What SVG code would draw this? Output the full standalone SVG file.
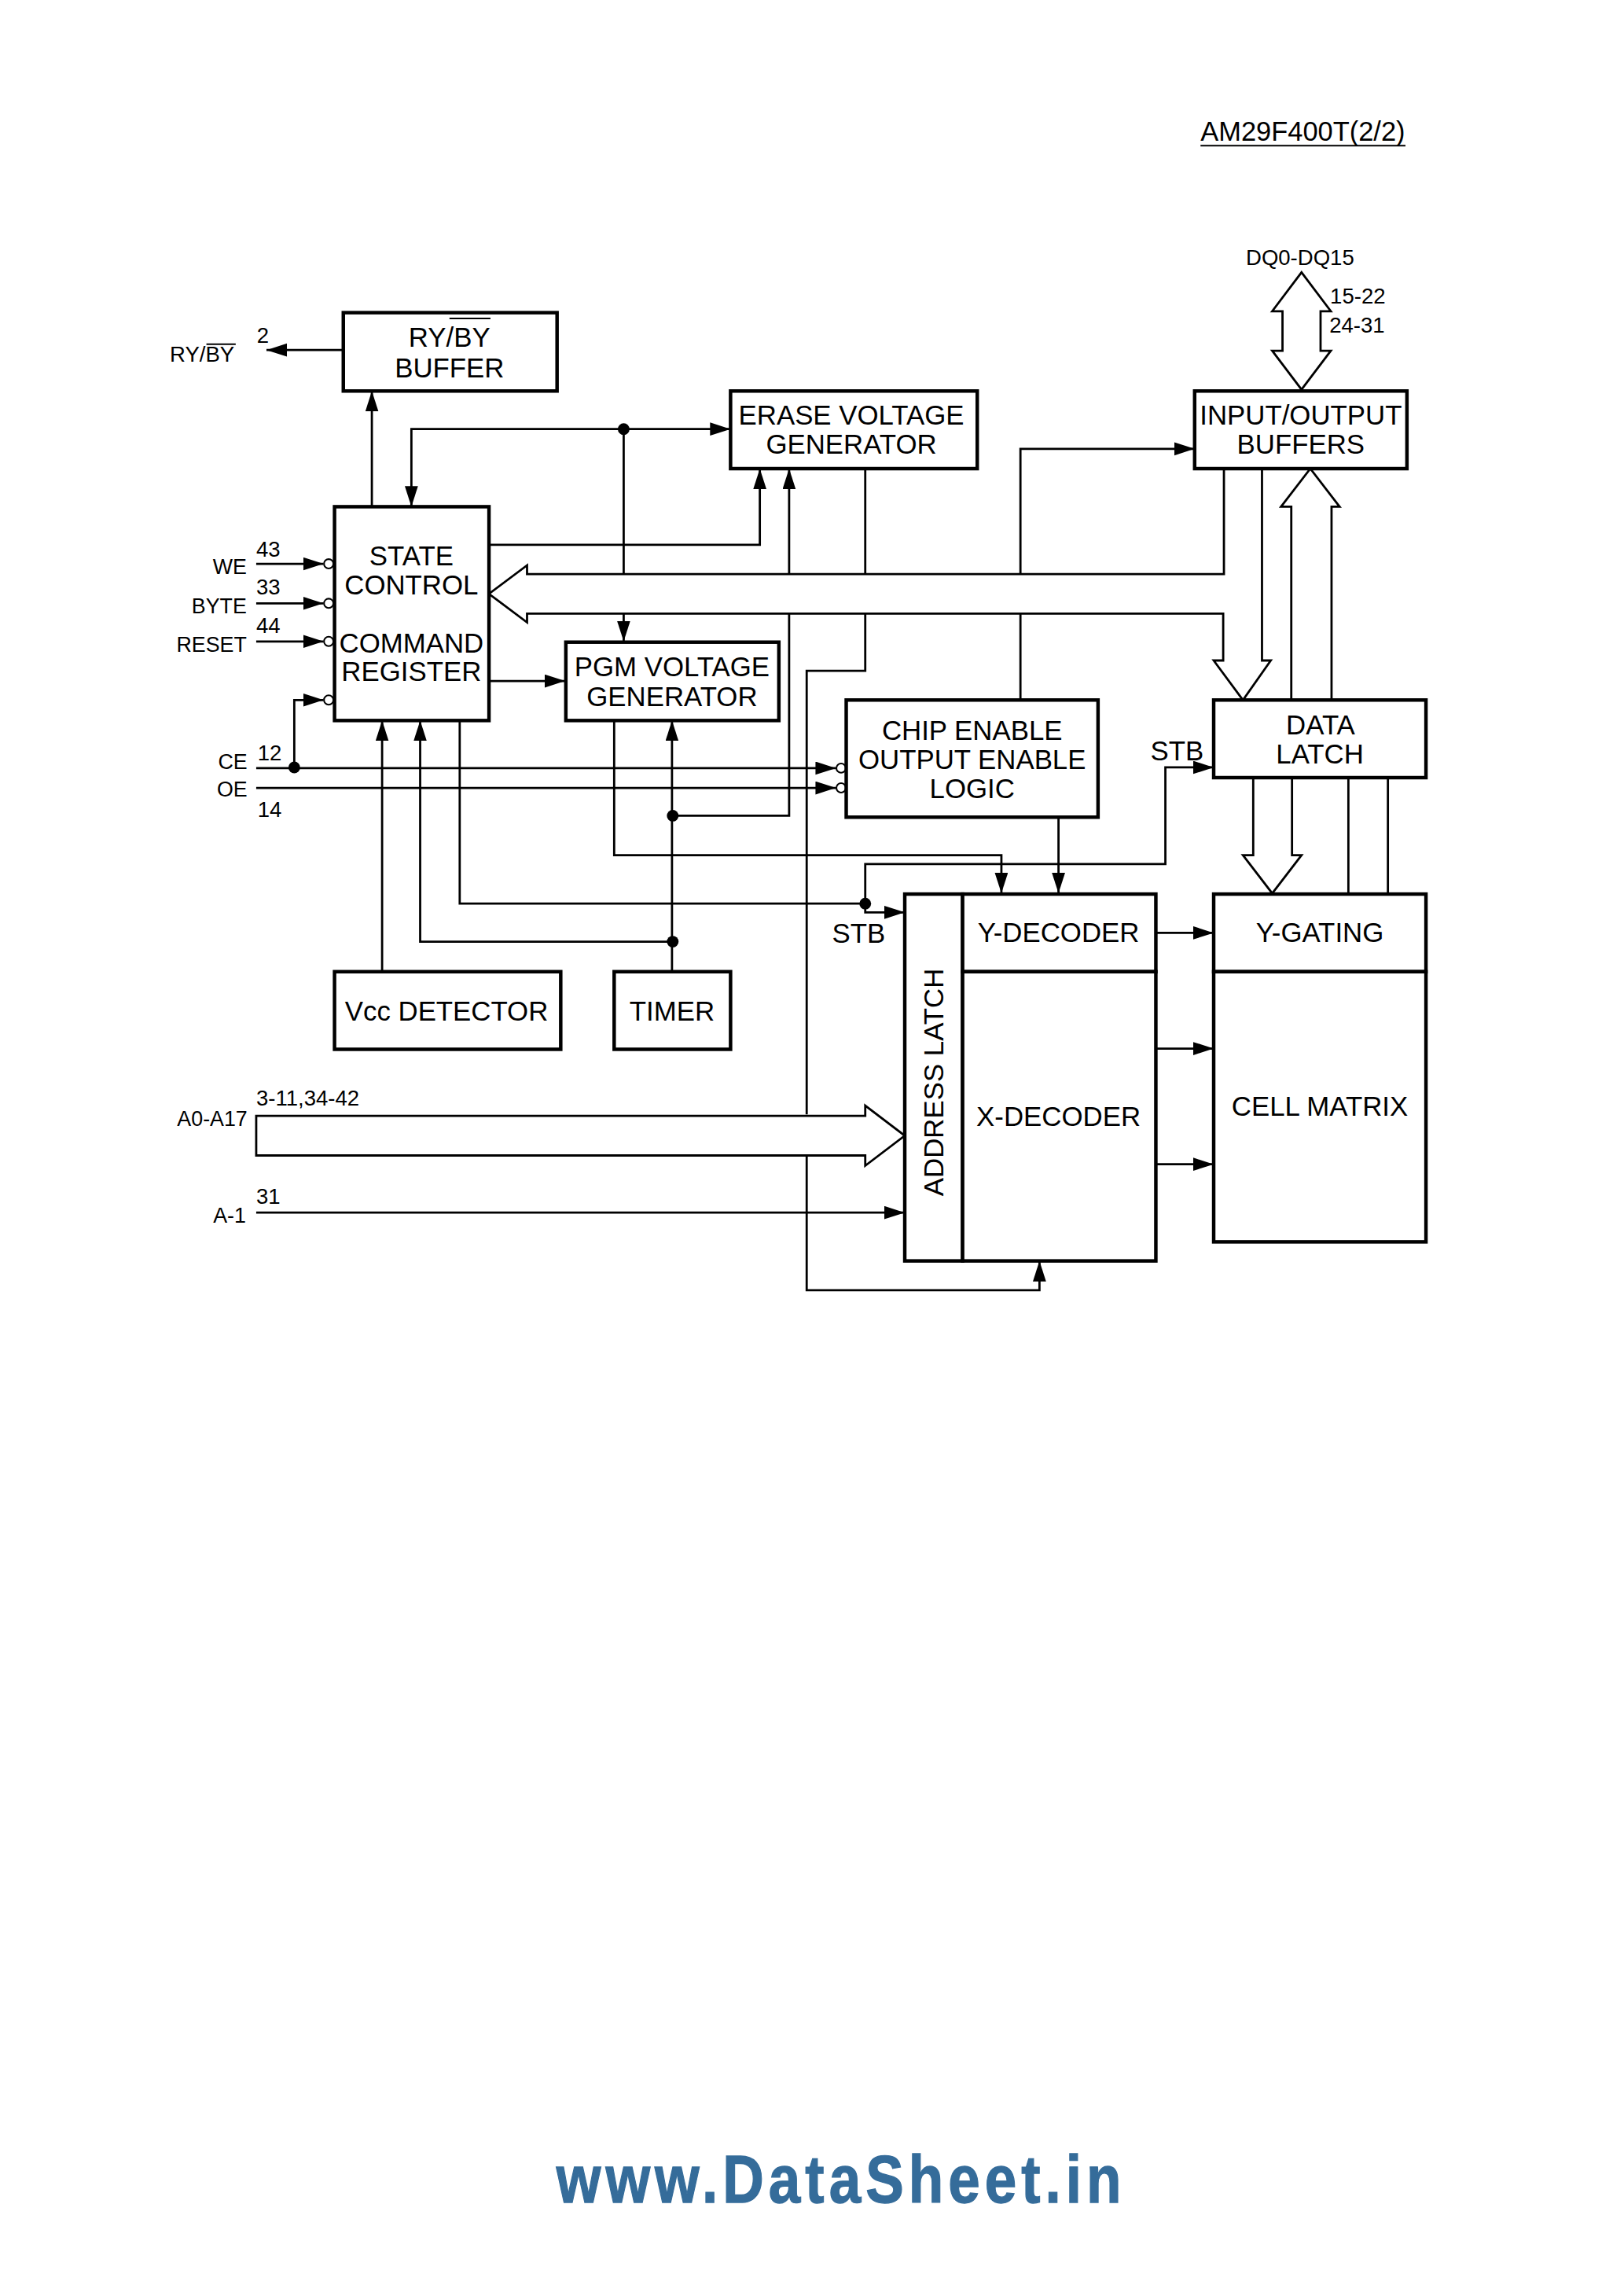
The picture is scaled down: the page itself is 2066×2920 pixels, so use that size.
<svg xmlns="http://www.w3.org/2000/svg" width="2066" height="2920" viewBox="0 0 2066 2920">
<style>
text{font-family:"Liberation Sans",Arial,sans-serif;fill:#000}
.b{font-size:18.7px;text-anchor:middle}
.s{font-size:14.8px}
.r{font-size:14.4px;text-anchor:end}
.box{fill:#fff;stroke:#000;stroke-width:2.4}
.l{fill:none;stroke:#000;stroke-width:1.5}
.a{fill:none;stroke:#000;stroke-width:1.5;marker-end:url(#arr)}
.bus{fill:none;stroke:#000;stroke-width:1.5;stroke-linejoin:miter}
.o{fill:#fff;stroke:#000;stroke-width:1.1}
.bar{stroke:#000;stroke-width:1.1}
</style>
<defs>
<marker id="arr" markerUnits="userSpaceOnUse" markerWidth="15" markerHeight="10" refX="14" refY="4.500" orient="auto"><path d="M0 0L14 4.500L0 9Z" fill="#000"/></marker>
</defs>
<rect width="2066" height="2920" fill="#fff"/>
<g transform="scale(1.8625)">
<g id="header"><text x="820" y="96" style="font-size:18.5px">AM29F400T(2/2)</text><line class="bar" x1="820" y1="99.5" x2="960" y2="99.5"/></g>
<g id="connectors">
<path class="a" d="M234 239H182"/>
<path class="a" d="M254 346V267"/>
<path class="a" d="M426 293H281V346"/>
<path class="a" d="M426 293H499"/>
<path class="l" d="M426 293V392"/>
<path class="a" d="M426 419V438"/>
<path class="a" d="M334 372H519V320"/>
<path class="a" d="M539 392V320"/>
<path class="l" d="M591 320V392"/>
<path class="a" d="M697 392V306.500H816"/>
<path class="bus" d="M836 320V392H360V386L334 405.500L360 425V419H835.500V451H829L849 478L868 451H862V320"/>
<path class="bus" d="M882 478V346H875L895 320L915 346H909.500V478"/>
<path class="bus" d="M889 186L909 212.500H902V239.500H909L889 266L869 239.500H876V212.500H869Z"/>
<path class="bus" d="M856 531V584H849L869 610L889 584H882.500V531"/>
<path class="l" d="M921 531V610"/>
<path class="l" d="M948 531V610"/>
<path class="a" d="M175 385H221"/>
<path class="a" d="M175 412H221"/>
<path class="a" d="M175 438H221"/>
<path class="a" d="M201 524V478H221"/>
<path class="a" d="M175 524.500H571"/>
<path class="a" d="M175 538H571"/>
<path class="a" d="M334 465H386"/>
<path class="a" d="M261 663V492"/>
<path class="a" d="M459 643H287V492"/>
<path class="a" d="M459 663V492"/>
<path class="l" d="M459 557H539V419"/>
<path class="l" d="M314 492V617H591"/>
<path class="a" d="M591 617V623H618"/>
<path class="a" d="M591 617V590H796V524H829"/>
<path class="a" d="M419.500 492V584H684V610"/>
<path class="a" d="M723 558V610"/>
<path class="l" d="M697 419V478"/>
<path class="l" d="M591 419V458H551V761"/>
<path class="a" d="M551 789V881H710V861"/>
<path class="bus" d="M175 762H591V755L618 775.500L591 796V789H175Z"/>
<path class="a" d="M175 828H618"/>
<path class="a" d="M789 637H829"/>
<path class="a" d="M789 716H829"/>
<path class="a" d="M789 795H829"/>
<circle cx="426" cy="293" r="4"/>
<circle cx="201" cy="524" r="4"/>
<circle cx="459.500" cy="557" r="4"/>
<circle cx="459.500" cy="643" r="4"/>
<circle cx="591" cy="617" r="4"/>
<circle class="o" cx="224.500" cy="385" r="3.200"/>
<circle class="o" cx="224.500" cy="412" r="3.200"/>
<circle class="o" cx="224.500" cy="438" r="3.200"/>
<circle class="o" cx="224.500" cy="478" r="3.200"/>
<circle class="o" cx="574.500" cy="524.500" r="3.200"/>
<circle class="o" cx="574.500" cy="538" r="3.200"/>
</g>
<g id="ryby-buffer"><rect class="box" x="234.500" y="213.500" width="146" height="53.500"/><text class="b" x="307" y="237">RY/BY</text><line class="bar" x1="307" y1="217.500" x2="335" y2="217.500"/><text class="b" x="307" y="257.500">BUFFER</text></g>
<g id="erase-voltage"><rect class="box" x="499" y="267" width="168.500" height="53"/><text class="b" x="581.500" y="290">ERASE VOLTAGE</text><text class="b" x="581.500" y="310">GENERATOR</text></g>
<g id="io-buffers"><rect class="box" x="816" y="267" width="145" height="53"/><text class="b" x="888.500" y="290">INPUT/OUTPUT</text><text class="b" x="888.500" y="310">BUFFERS</text></g>
<g id="state-control"><rect class="box" x="228.500" y="346" width="105.500" height="146"/><text class="b" x="281" y="386">STATE</text><text class="b" x="281" y="406">CONTROL</text><text class="b" x="281" y="445.500">COMMAND</text><text class="b" x="281" y="465">REGISTER</text></g>
<g id="pgm-voltage"><rect class="box" x="386.500" y="438.500" width="145.500" height="53.500"/><text class="b" x="459" y="462">PGM VOLTAGE</text><text class="b" x="459" y="482">GENERATOR</text></g>
<g id="chip-enable"><rect class="box" x="578" y="478" width="172" height="80"/><text class="b" x="664" y="505">CHIP ENABLE</text><text class="b" x="664" y="525">OUTPUT ENABLE</text><text class="b" x="664" y="545">LOGIC</text></g>
<g id="data-latch"><rect class="box" x="829" y="478" width="145" height="53"/><text class="b" x="902" y="501.500">DATA</text><text class="b" x="901.500" y="521.500">LATCH</text></g>
<g id="address-latch"><rect class="box" x="618" y="610.500" width="39.500" height="250.500"/><text class="b" transform="translate(644.500 739) rotate(-90)">ADDRESS LATCH</text></g>
<g id="y-decoder"><rect class="box" x="657.500" y="610.500" width="132" height="53"/><text class="b" x="723" y="643">Y-DECODER</text></g>
<g id="x-decoder"><rect class="box" x="657.500" y="663.500" width="132" height="197.500"/><text class="b" x="723" y="769">X-DECODER</text></g>
<g id="y-gating"><rect class="box" x="829" y="610.500" width="145" height="53"/><text class="b" x="901.500" y="643">Y-GATING</text></g>
<g id="cell-matrix"><rect class="box" x="829" y="663.500" width="145" height="184.500"/><text class="b" x="901.500" y="762">CELL MATRIX</text></g>
<g id="vcc-detector"><rect class="box" x="228.500" y="663.500" width="154.500" height="53"/><text class="b" x="305" y="697">Vcc DETECTOR</text></g>
<g id="timer"><rect class="box" x="419.500" y="663.500" width="79.500" height="53"/><text class="b" x="459" y="697">TIMER</text></g>
<g id="labels">
<text class="b" x="804" y="519">STB</text>
<text class="b" x="586.500" y="644">STB</text>
<text class="s" x="116" y="247">RY/BY</text><line class="bar" x1="141" y1="235" x2="161" y2="235"/>
<text class="r" x="168.500" y="392">WE</text>
<text class="r" x="168.500" y="419">BYTE</text>
<text class="r" x="168.500" y="445">RESET</text>
<text class="r" x="169" y="525">CE</text>
<text class="r" x="169" y="544">OE</text>
<text class="r" x="169" y="769">A0-A17</text>
<text class="r" x="168" y="835">A-1</text>
<text class="s" x="175.500" y="234">2</text>
<text class="s" x="175" y="380">43</text>
<text class="s" x="175" y="406">33</text>
<text class="s" x="175" y="432">44</text>
<text class="s" x="176" y="519">12</text>
<text class="s" x="176" y="558">14</text>
<text class="s" x="175" y="755">3-11,34-42</text>
<text class="s" x="175" y="822">31</text>
<text class="s" x="851" y="181">DQ0-DQ15</text>
<text class="s" x="908.500" y="207">15-22</text>
<text class="s" x="908" y="227">24-31</text>
</g>
<g id="watermark"><text transform="translate(380 1504) scale(.85 1)" style="font-size:46px;font-weight:bold;fill:#356c9a;stroke:#356c9a;stroke-width:.7px;letter-spacing:3.800px">www.DataSheet.in</text></g>
</g>
</svg>
